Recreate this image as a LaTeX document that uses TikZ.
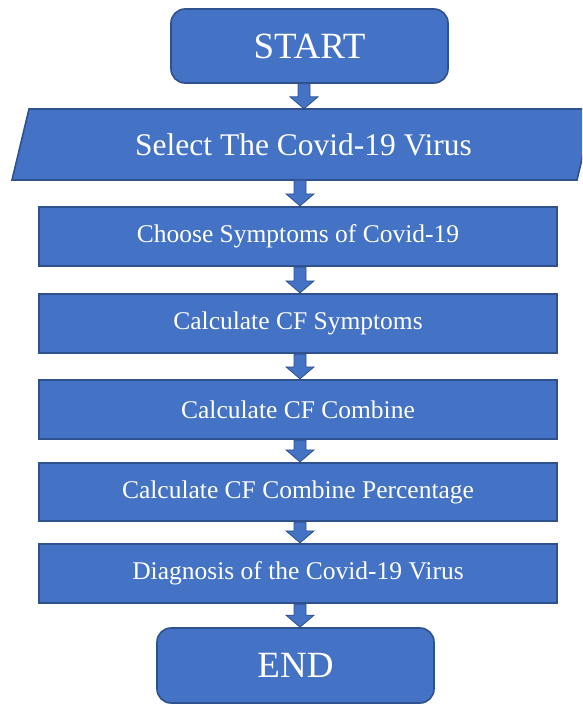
\documentclass[tikz,border=0pt]{standalone}
\usepackage{fontspec}
\setmainfont{Liberation Serif}
\newfontfamily\timesfont{Liberation Serif}
\usetikzlibrary{calc}
\definecolor{boxblue}{HTML}{4472C4}
\definecolor{edgeblue}{HTML}{2F528F}
\tikzset{
  termbox/.style={draw=edgeblue, line width=1.6pt, fill=boxblue, rounded corners=14pt,
    minimum width=277pt, minimum height=74pt, text=white, font=\timesfont\fontsize{37}{40}\selectfont, inner sep=0pt},
  stepbox/.style={draw=edgeblue, line width=2.2pt, fill=boxblue,
    minimum width=518pt, minimum height=58pt, text=white, font=\timesfont\fontsize{25.5}{28}\selectfont, inner sep=0pt},
  blockarrow/.style={fill=boxblue, draw=edgeblue, line width=0.8pt}
}
\newcommand\myarrow[3]{%
  \path[blockarrow] let \p1=($(#1.south)+(#3,0)$), \p2=(#2.north) in
    (\x1-6pt,\y1) -- (\x1+6pt,\y1) -- (\x1+6pt,\y2+12pt) -- (\x1+14pt,\y2+12pt)
    -- (\x1,\y2) -- (\x1-14pt,\y2+12pt) -- (\x1-6pt,\y2+12pt) -- cycle;}
\begin{document}
\begin{tikzpicture}[x=1pt,y=-1pt]
\useasboundingbox (0,0) rectangle (582,704);
\begin{scope}
\clip (0,0) rectangle (582,704);
\coordinate (pbl) at (12,180);
\coordinate (ptl) at (29,109);
\coordinate (ptr) at (594,109);
\coordinate (pbr) at (577,180);
\draw[draw=edgeblue, line width=1.6pt, fill=boxblue] (pbl) -- (ptl) -- (ptr) -- (pbr) -- cycle;
\end{scope}
\node[text=white, font=\timesfont\fontsize{31.5}{34}\selectfont, minimum height=71pt, inner sep=0pt] (sel) at (303.5,144.5) {\raisebox{-4pt}{Select The Covid-19 Virus}};

\node[termbox] (start) at (309.5,46) {START};
\node[stepbox, minimum height=59pt] (s1) at (298,236.5) {\raisebox{-1.5pt}{Choose Symptoms of Covid-19}};
\node[stepbox, minimum height=59pt] (s2) at (298,323.5) {\raisebox{-1.5pt}{Calculate CF Symptoms}};
\node[stepbox, minimum height=59pt] (s3) at (298,409.5) {\raisebox{-1.5pt}{Calculate CF Combine}};
\node[stepbox] (s4) at (298,492) {\raisebox{-1.5pt}{Calculate CF Combine Percentage}};
\node[stepbox, minimum height=59pt] (s5) at (298,573.5) {\raisebox{-1.5pt}{Diagnosis of the Covid-19 Virus}};
\node[termbox, minimum height=75pt] (end) at (295.5,665.5) {END};

\myarrow{start}{sel}{-5.5pt}
\myarrow{sel}{s1}{-3.5pt}
\myarrow{s1}{s2}{2pt}
\myarrow{s2}{s3}{2pt}
\myarrow{s3}{s4}{2pt}
\myarrow{s4}{s5}{2pt}
\myarrow{s5}{end}{2pt}
\end{tikzpicture}
\end{document}
